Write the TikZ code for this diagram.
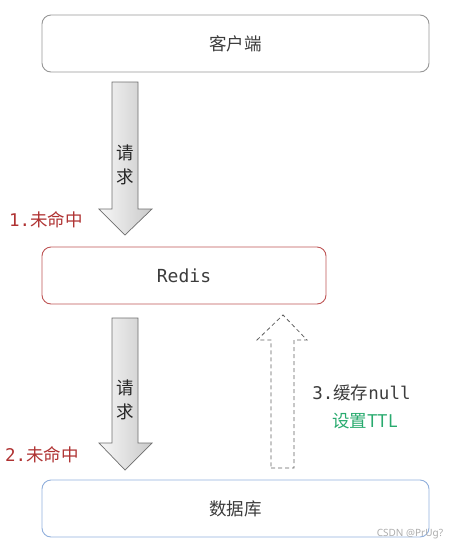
\documentclass[tikz,border=0pt]{standalone}
\usepackage{fontspec}
\setmainfont{Noto Sans}
\newfontfamily\cjk{Noto Sans CJK SC}
\newfontfamily\mono{DejaVu Sans Mono}
\definecolor{boxgray}{RGB}{150,150,150}
\definecolor{boxred}{RGB}{190,85,85}
\definecolor{boxblue}{RGB}{145,175,220}
\definecolor{txtgray}{RGB}{60,60,60}
\definecolor{txtred}{RGB}{175,50,50}
\definecolor{txtgreen}{RGB}{40,170,110}
\definecolor{arrowline}{RGB}{110,110,110}
\begin{document}
\begin{tikzpicture}[x=1pt,y=-1pt,
  box/.style={draw, rounded corners=9pt, line width=0.9pt, inner sep=0pt, minimum height=57pt},
  boxtext/.style={font=\cjk\fontsize{17.5}{20}\selectfont, text=txtgray},
  blockarrow/.style={draw=arrowline, line width=0.7pt, left color=gray!6, right color=gray!42},
  dasharrow/.style={draw=gray!75!black, line width=0.8pt, dash pattern=on 4pt off 3pt},
  vlabel/.style={font=\cjk\fontsize{17.5}{24}\selectfont, align=center, text=black!85},
  redlabel/.style={font=\fontsize{17.5}{20}\selectfont, text=txtred},
  lbl/.style={font=\fontsize{17.5}{20}\selectfont}]
\useasboundingbox (0,0) rectangle (459,550);
% boxes
\node[box, draw=boxgray, minimum width=387pt, boxtext] (client) at (235.5,43.5) {客户端};
\node[box, draw=boxred, minimum width=284pt] (redis) at (184,275.5) {\mono\fontsize{18}{20}\selectfont\color{txtgray}Redis};
\node[box, draw=boxblue, minimum width=387pt, boxtext] (db) at (235.5,508.5) {数据库};
% block arrows
\path[blockarrow] (112,82) -- (138,82) -- (138,209) -- (152,209) -- (125,235) -- (99,209) -- (112,209) -- cycle;
\path[blockarrow] (112,318) -- (138,318) -- (138,443) -- (152,443) -- (125,470) -- (99,443) -- (112,443) -- cycle;
\path[dasharrow] (271,468) -- (294,468) -- (294,340) -- (307,340) -- (283,315) -- (257,340) -- (271,340) -- cycle;
% labels
\node[vlabel] (req1) at (125,165) {请\\求};
\node[vlabel] (req2) at (125,399.5) {请\\求};
\node[redlabel] (miss1) at (46,220) {{\mono 1.}{\cjk 未命中}};
\node[redlabel] (miss2) at (42,455) {{\mono 2.}{\cjk 未命中}};
\node[lbl, text=txtgray] (cache) at (361.5,393) {{\mono 3.}{\cjk 缓存}{\mono null}};
\node[lbl, text=txtgreen] (ttl) at (365,421) {{\cjk 设置TTL}};
\node[font=\fontsize{10}{12}\selectfont, text=gray!65] (wm) at (410,534) {CSDN @PrUg?};
\end{tikzpicture}
\end{document}
